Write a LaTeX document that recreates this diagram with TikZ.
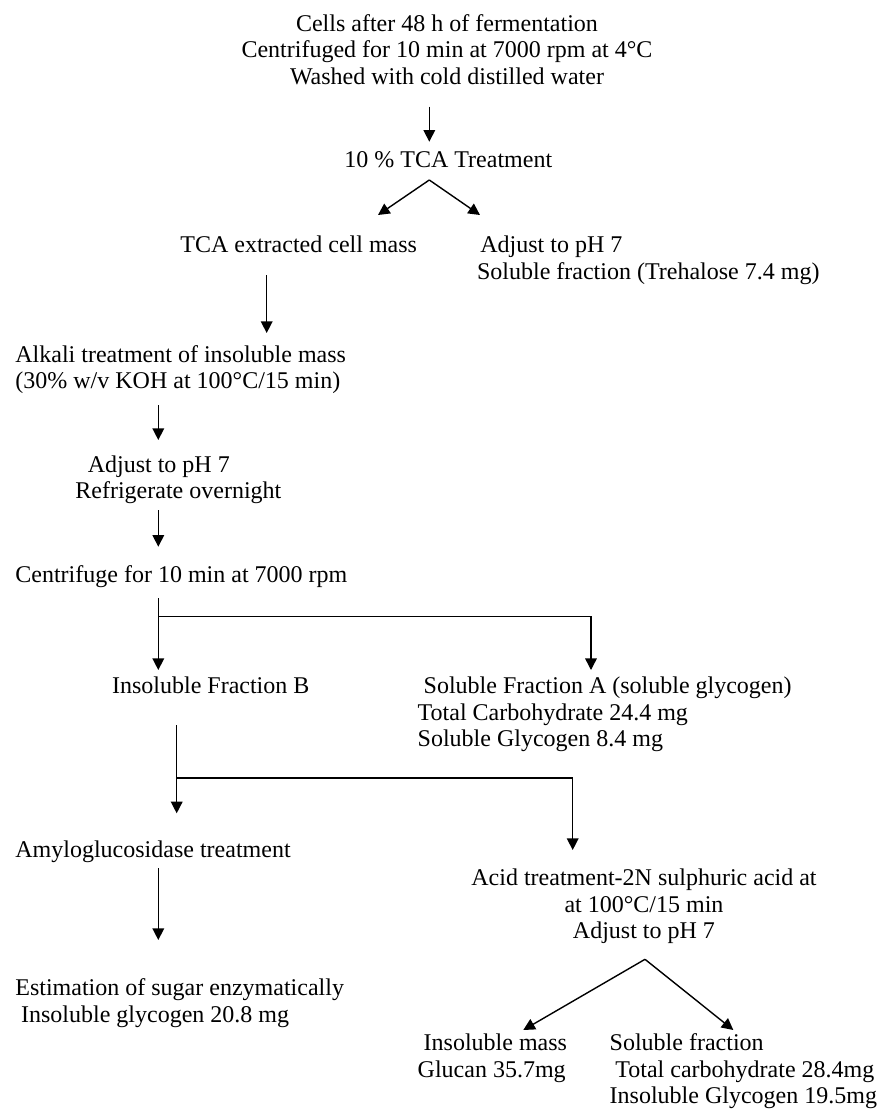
\documentclass[tikz,border=0pt]{standalone}
\usepackage{fontspec}
\setmainfont{Liberation Serif}
\usetikzlibrary{arrows.meta}
\begin{document}
\begin{tikzpicture}[x=0.5pt,y=-0.5pt,
  txt/.style={inner sep=0pt,font=\fontsize{12}{13.3}\selectfont},
  lft/.style={txt,align=left,anchor=north west},
  ctr/.style={txt,align=center,anchor=north},
  conn/.style={line width=0.7pt},
  arr/.style={conn,-{Triangle[length=5.8pt,width=5.8pt]}}]
\useasboundingbox[fill=white] (0,0) rectangle (880,1110);

% text blocks
\node[ctr] (top) at (447,12.1) {\strut Cells after 48 h of fermentation\\\strut Centrifuged for 10 min at 7000 rpm at 4°C\\\strut Washed with cold distilled water};
\node[ctr] (tca) at (448.3,148.1) {\strut 10 \% TCA Treatment};
\node[lft] (ext) at (180,233.1) {\strut TCA extracted cell mass};
\node[lft] (treh) at (476.7,233.7) {\strut\hspace*{1.65pt}Adjust to pH 7\\\strut Soluble fraction (Trehalose 7.4 mg)};
\node[lft] (alk) at (15,343.1) {\strut Alkali treatment of insoluble mass\\\strut (30\% w/v KOH at 100°C/15 min)};
\node[lft] (adj) at (75,453.1) {\strut\hspace*{6.2pt}Adjust to pH 7\\\strut Refrigerate overnight};
\node[lft] (cen) at (15,563.1) {\strut Centrifuge for 10 min at 7000 rpm};
\node[lft] (insB) at (111.7,674.1) {\strut Insoluble Fraction B};
\node[lft] (solA) at (417.3,674.4) {\strut\hspace*{3pt}Soluble Fraction A (soluble glycogen)\\\strut Total Carbohydrate 24.4 mg\\\strut Soluble Glycogen 8.4 mg};
\node[lft] (amy) at (15,838.7) {\strut Amyloglucosidase treatment};
\node[lft] (est) at (15,976.4) {\strut Estimation of sugar enzymatically\\\strut\hspace*{2.85pt}Insoluble glycogen 20.8 mg};
\node[ctr] (acid) at (644,866.4) {\strut Acid treatment-2N sulphuric acid at\\\strut at 100°C/15 min\\\strut Adjust to pH 7};
\node[lft] (insm) at (417.3,1031.4) {\strut\hspace*{3pt}Insoluble mass\\\strut Glucan 35.7mg};
\node[lft] (solf) at (609.3,1031.4) {\strut Soluble fraction\\\strut\hspace*{2.85pt}Total carbohydrate 28.4mg\\\strut Insoluble Glycogen 19.5mg};

% connector end points
\coordinate (topS) at (429.3,106.7);
\coordinate (tcaN) at (429.3,141.7);
\coordinate (tcaS) at (429.3,180);
\coordinate (extN) at (378,215);
\coordinate (trehN) at (480,215);
\coordinate (extS) at (266.7,275);
\coordinate (alkN) at (266.7,333);
\coordinate (alkS) at (158.3,405);
\coordinate (adjN) at (158.3,440);
\coordinate (adjS) at (158.3,510);
\coordinate (cenN) at (158.3,546.7);
\coordinate (cenS) at (158.3,598.3);
\coordinate (br1) at (158.3,616.7);
\coordinate (br1r) at (591,616.7);
\coordinate (insBN) at (158.3,670);
\coordinate (solAN) at (591,670);
\coordinate (insBS) at (176.7,725);
\coordinate (br2) at (176.7,778);
\coordinate (br2r) at (572.7,778);
\coordinate (amyN) at (176.7,813.3);
\coordinate (acidN) at (572.7,850);
\coordinate (amyS) at (158.3,868.3);
\coordinate (estN) at (158.3,940);
\coordinate (acidS) at (645,959.3);
\coordinate (insmN) at (523.3,1030);
\coordinate (solfN) at (733.3,1030);

% connectors
\draw[arr] (topS) -- (tcaN);
\draw[arr] (tcaS) -- (extN);
\draw[arr] (tcaS) -- (trehN);
\draw[arr] (extS) -- (alkN);
\draw[arr] (alkS) -- (adjN);
\draw[arr] (adjS) -- (cenN);
\draw[arr] (cenS) -- (insBN);
\draw[arr] (br1) -- (br1r) -- (solAN);
\draw[arr] (insBS) -- (amyN);
\draw[arr] (br2) -- (br2r) -- (acidN);
\draw[arr] (amyS) -- (estN);
\draw[arr] (acidS) -- (insmN);
\draw[arr] (acidS) -- (solfN);
\end{tikzpicture}
\end{document}
